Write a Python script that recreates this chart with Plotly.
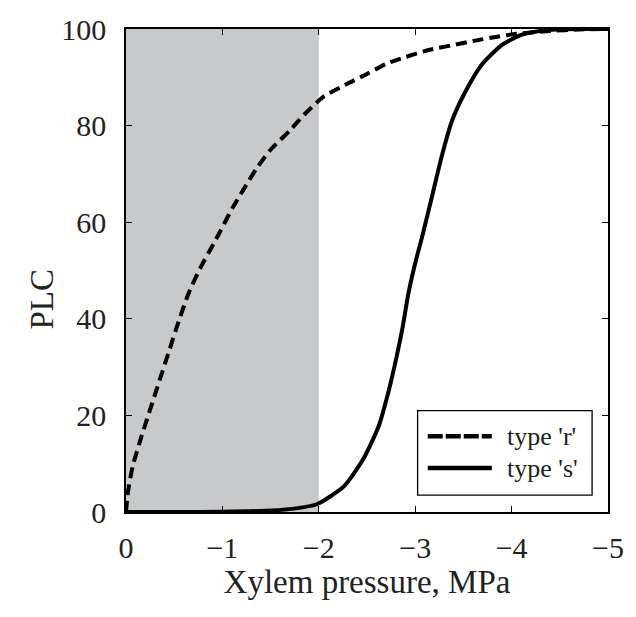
import plotly.graph_objects as go

# Data
pressure_r = [0, -0.02, -0.07, -0.16, -0.25, -0.35, -0.45, -0.55, -0.65, -0.77, -0.88, -0.98,
              -1.1, -1.22, -1.35, -1.5, -1.7, -1.85, -2.05, -2.3, -2.5, -2.7, -2.9, -3.15,
              -3.4, -3.65, -3.85, -4.05, -4.4, -4.7, -5.0]
plc_r = [0, 4.1, 9.5, 15.6, 21.2, 27.4, 33.5, 39.7, 45.3, 50.5, 54.5, 58.2,
         62.8, 66.8, 71, 75, 79, 82.3, 86, 88.7, 90.7, 92.8, 94.2, 95.7,
         96.7, 97.7, 98.4, 99.0, 99.6, 99.9, 100]

pressure_s = [0, -0.5, -1.0, -1.5, -1.78, -1.98, -2.26, -2.46, -2.62, -2.72, -2.8, -2.87,
              -2.93, -3.0, -3.08, -3.18, -3.28, -3.38, -3.52, -3.69, -3.9, -4.1, -4.37,
              -4.7, -5.0]
plc_s = [0, 0.0, 0.05, 0.3, 0.8, 1.6, 5.3, 10.9, 17.7, 24.7, 31.5, 38.3,
         45.3, 51.5, 57.6, 65.8, 74, 80.9, 87, 92.6, 96.7, 98.8, 99.8,
         100, 100]

x_ticks = [0, -1, -2, -3, -4, -5]
x_tick_labels = ["0", "\u22121", "\u22122", "\u22123", "\u22124", "\u22125"]
y_ticks = [0, 20, 40, 60, 80, 100]
shade_range = [0, -2]
series_names = ["type 'r'", "type 's'"]
x_title = "Xylem pressure, MPa"
y_title = "PLC"

FONT = "Liberation Serif, Times New Roman, serif"
TXT = "#222222"
DASH = "11px,6px"

fig = go.Figure()

fig.add_shape(type="rect", xref="x", yref="y",
              x0=shade_range[0], x1=shade_range[1], y0=0, y1=100,
              fillcolor="#c8c9cb", line=dict(width=0), layer="below")

fig.add_trace(go.Scatter(x=pressure_r, y=plc_r, mode="lines", name=series_names[0],
                         line=dict(color="black", width=4, dash=DASH, shape="spline",
                                   smoothing=0.6)))
fig.add_trace(go.Scatter(x=pressure_s, y=plc_s, mode="lines", name=series_names[1],
                         line=dict(color="black", width=4, shape="spline", smoothing=0.6)))

# Legend box (drawn in paper coordinates to match the long line samples)
fig.add_shape(type="rect", xref="paper", yref="paper", x0=0.605, x1=0.967, y0=0.035, y1=0.210,
              fillcolor="white", line=dict(color="black", width=1.3), layer="above")
legend_rows = [0.157, 0.091]
legend_dash = ["15px,3px", "solid"]
for name, yrow, dsh in zip(series_names, legend_rows, legend_dash):
    fig.add_shape(type="line", xref="paper", yref="paper", x0=0.626, x1=0.759, y0=yrow, y1=yrow,
                  line=dict(color="black", width=4.5, dash=dsh), layer="above")
    fig.add_annotation(xref="paper", yref="paper", x=0.787, y=yrow, text=name, showarrow=False,
                       xanchor="left", yanchor="middle",
                       font=dict(family=FONT, size=26, color=TXT))

# y-axis title (slightly below the vertical centre, as in the reference)
fig.add_annotation(xref="paper", yref="paper", x=0, y=0.44, xshift=-84, text=y_title,
                   textangle=-90, showarrow=False, xanchor="center", yanchor="middle",
                   font=dict(family=FONT, size=33, color=TXT))

fig.update_layout(
    width=636, height=617,
    margin=dict(l=126, r=21, t=27, b=105),
    paper_bgcolor="white", plot_bgcolor="rgba(0,0,0,0)",
    font=dict(family=FONT, color=TXT, size=30),
    showlegend=False,
)

fig.update_xaxes(range=[0, -5], tickvals=x_ticks, ticktext=x_tick_labels,
                 showgrid=False, zeroline=False, showline=True, linecolor="black",
                 linewidth=1.5, mirror="ticks", ticks="inside", ticklen=6,
                 tickcolor="black", tickwidth=1.2, ticklabelstandoff=8,
                 title=dict(text=x_title, font=dict(size=33), standoff=2),
                 tickfont=dict(size=30))
fig.update_yaxes(range=[0, 100], tickvals=y_ticks,
                 showgrid=False, zeroline=False, showline=True, linecolor="black",
                 linewidth=1.5, mirror="ticks", ticks="inside", ticklen=6,
                 tickcolor="black", tickwidth=1.2, ticklabelstandoff=12,
                 tickfont=dict(size=30))

fig.write_html("out.html", config={"displayModeBar": False},
               post_script="document.body.style.margin='0';document.body.style.padding='0';")
